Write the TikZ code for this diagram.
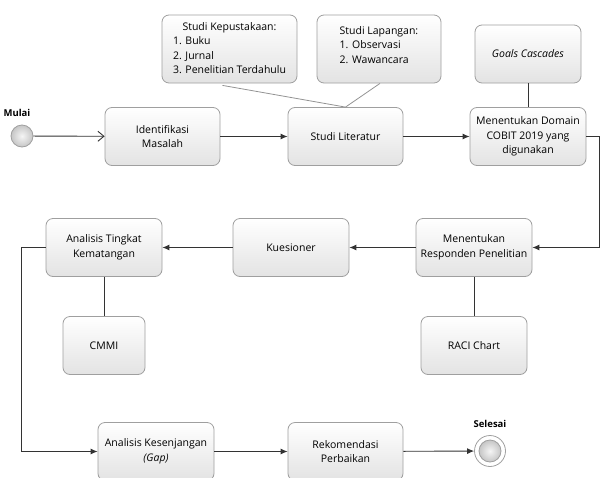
\documentclass[tikz,border=0pt]{standalone}
\usepackage{fontspec}
\setmainfont{Open Sans}
\usepackage{tikz}
\usetikzlibrary{arrows.meta}
\usetikzlibrary{positioning}

\tikzset{
  box/.style={draw=gray!75, line width=0.8pt, rounded corners=7pt, top color=white, bottom color=gray!22,
    minimum width=115pt, minimum height=58pt, align=center, inner sep=2pt,
    font=\fontsize{10.5}{14.5}\selectfont},
  dot/.style={circle, draw=gray!75, line width=0.8pt, inner color=gray!8, outer color=gray!45, minimum size=22pt, inner sep=0pt},
  ring/.style={circle, draw=gray!75, line width=0.8pt, minimum size=31pt, inner sep=0pt},
  flow/.style={draw=black!80, line width=0.9pt, -{Latex[length=7pt,width=6pt]}},
  link/.style={draw=black!80, line width=0.9pt},
  tag/.style={font=\fontsize{9.5}{10}\selectfont\bfseries}
}

\begin{document}
\begin{tikzpicture}[x=1pt,y=1pt]
    \clip (0,0) rectangle (600,-477);
    \useasboundingbox (0,0) rectangle (600,-477);
    \node[dot] (mulai) at (22,-136) {};
    \node[tag] (lblmulai) at (17,-113) {Mulai};
    \node[box] (idn) at (162.5,-136.5) {Identifikasi\\Masalah};
    \node[box] (lit) at (345.5,-136.5) {Studi Literatur};
    \node[box, minimum width=116pt] (dom) at (528,-136.5) {Menentukan Domain\\COBIT 2019 yang\\digunakan};
    \node[box, minimum width=135pt, minimum height=68pt] (kep) at (229.5,-49)
      {\begin{tabular}{@{}l@{}}\multicolumn{1}{c}{Studi Kepustakaan:}\\1. Buku\\2. Jurnal\\3. Penelitian Terdahulu\end{tabular}};
    \node[box, minimum width=124pt, minimum height=68pt] (lap) at (379,-49)
      {\begin{tabular}{@{}l@{}}Studi Lapangan:\\1. Observasi\\2. Wawancara\\[6pt]\end{tabular}};
    \node[box, minimum width=106pt] (goal) at (528,-54) {\itshape Goals Cascades};
    \node[box, minimum width=116pt] (resp) at (474,-247.5) {Menentukan\\Responden Penelitian};
    \node[box, minimum width=106pt] (raci) at (474,-345.5) {RACI Chart};
    \node[box, minimum width=116pt] (kue) at (291,-247.5) {Kuesioner};
    \node[box, minimum width=116pt] (ting) at (104,-247.5) {Analisis Tingkat\\Kematangan};
    \node[box, minimum width=82pt] (cmmi) at (104,-345.5) {CMMI};
    \node[box, minimum width=116pt] (gap) at (156,-451.5) {Analisis Kesenjangan\\\itshape(Gap)};
    \node[box] (rek) at (345.5,-451.5) {Rekomendasi\\Perbaikan};
    \node[ring] (selesai) at (490,-451) {};
    \node[dot] (inti) at (selesai.center) {};
    \node[tag] (lblselesai) at (490,-424) {Selesai};
    \coordinate (kanan) at (599,-136.5);
    \coordinate (kiri) at (21,-247.5);

    \draw[link, -{Straight Barb[length=6pt,width=10pt]}] (mulai) -- (idn);
    \draw[flow] (idn) -- (lit);
    \draw[flow] (lit) -- (dom);
    \draw[flow] (dom) -- (kanan) |- (resp);
    \draw[flow] (resp) -- (kue);
    \draw[flow] (kue) -- (ting);
    \draw[flow] (ting) -- (kiri) |- (gap);
    \draw[flow] (gap) -- (rek);
    \draw[flow] (rek) -- (selesai);
    \draw[draw=gray!85, line width=0.8pt] (kep.south) ++(-7,-2) -- (lit.north);
    \draw[draw=gray!85, line width=0.8pt] (lap.south) ++(1,0) -- (lit.north);
    \draw[link] (goal) -- (dom);
    \draw[link] (resp) -- (raci);
    \draw[link] (ting) -- (cmmi);
  \end{tikzpicture}
\end{document}
